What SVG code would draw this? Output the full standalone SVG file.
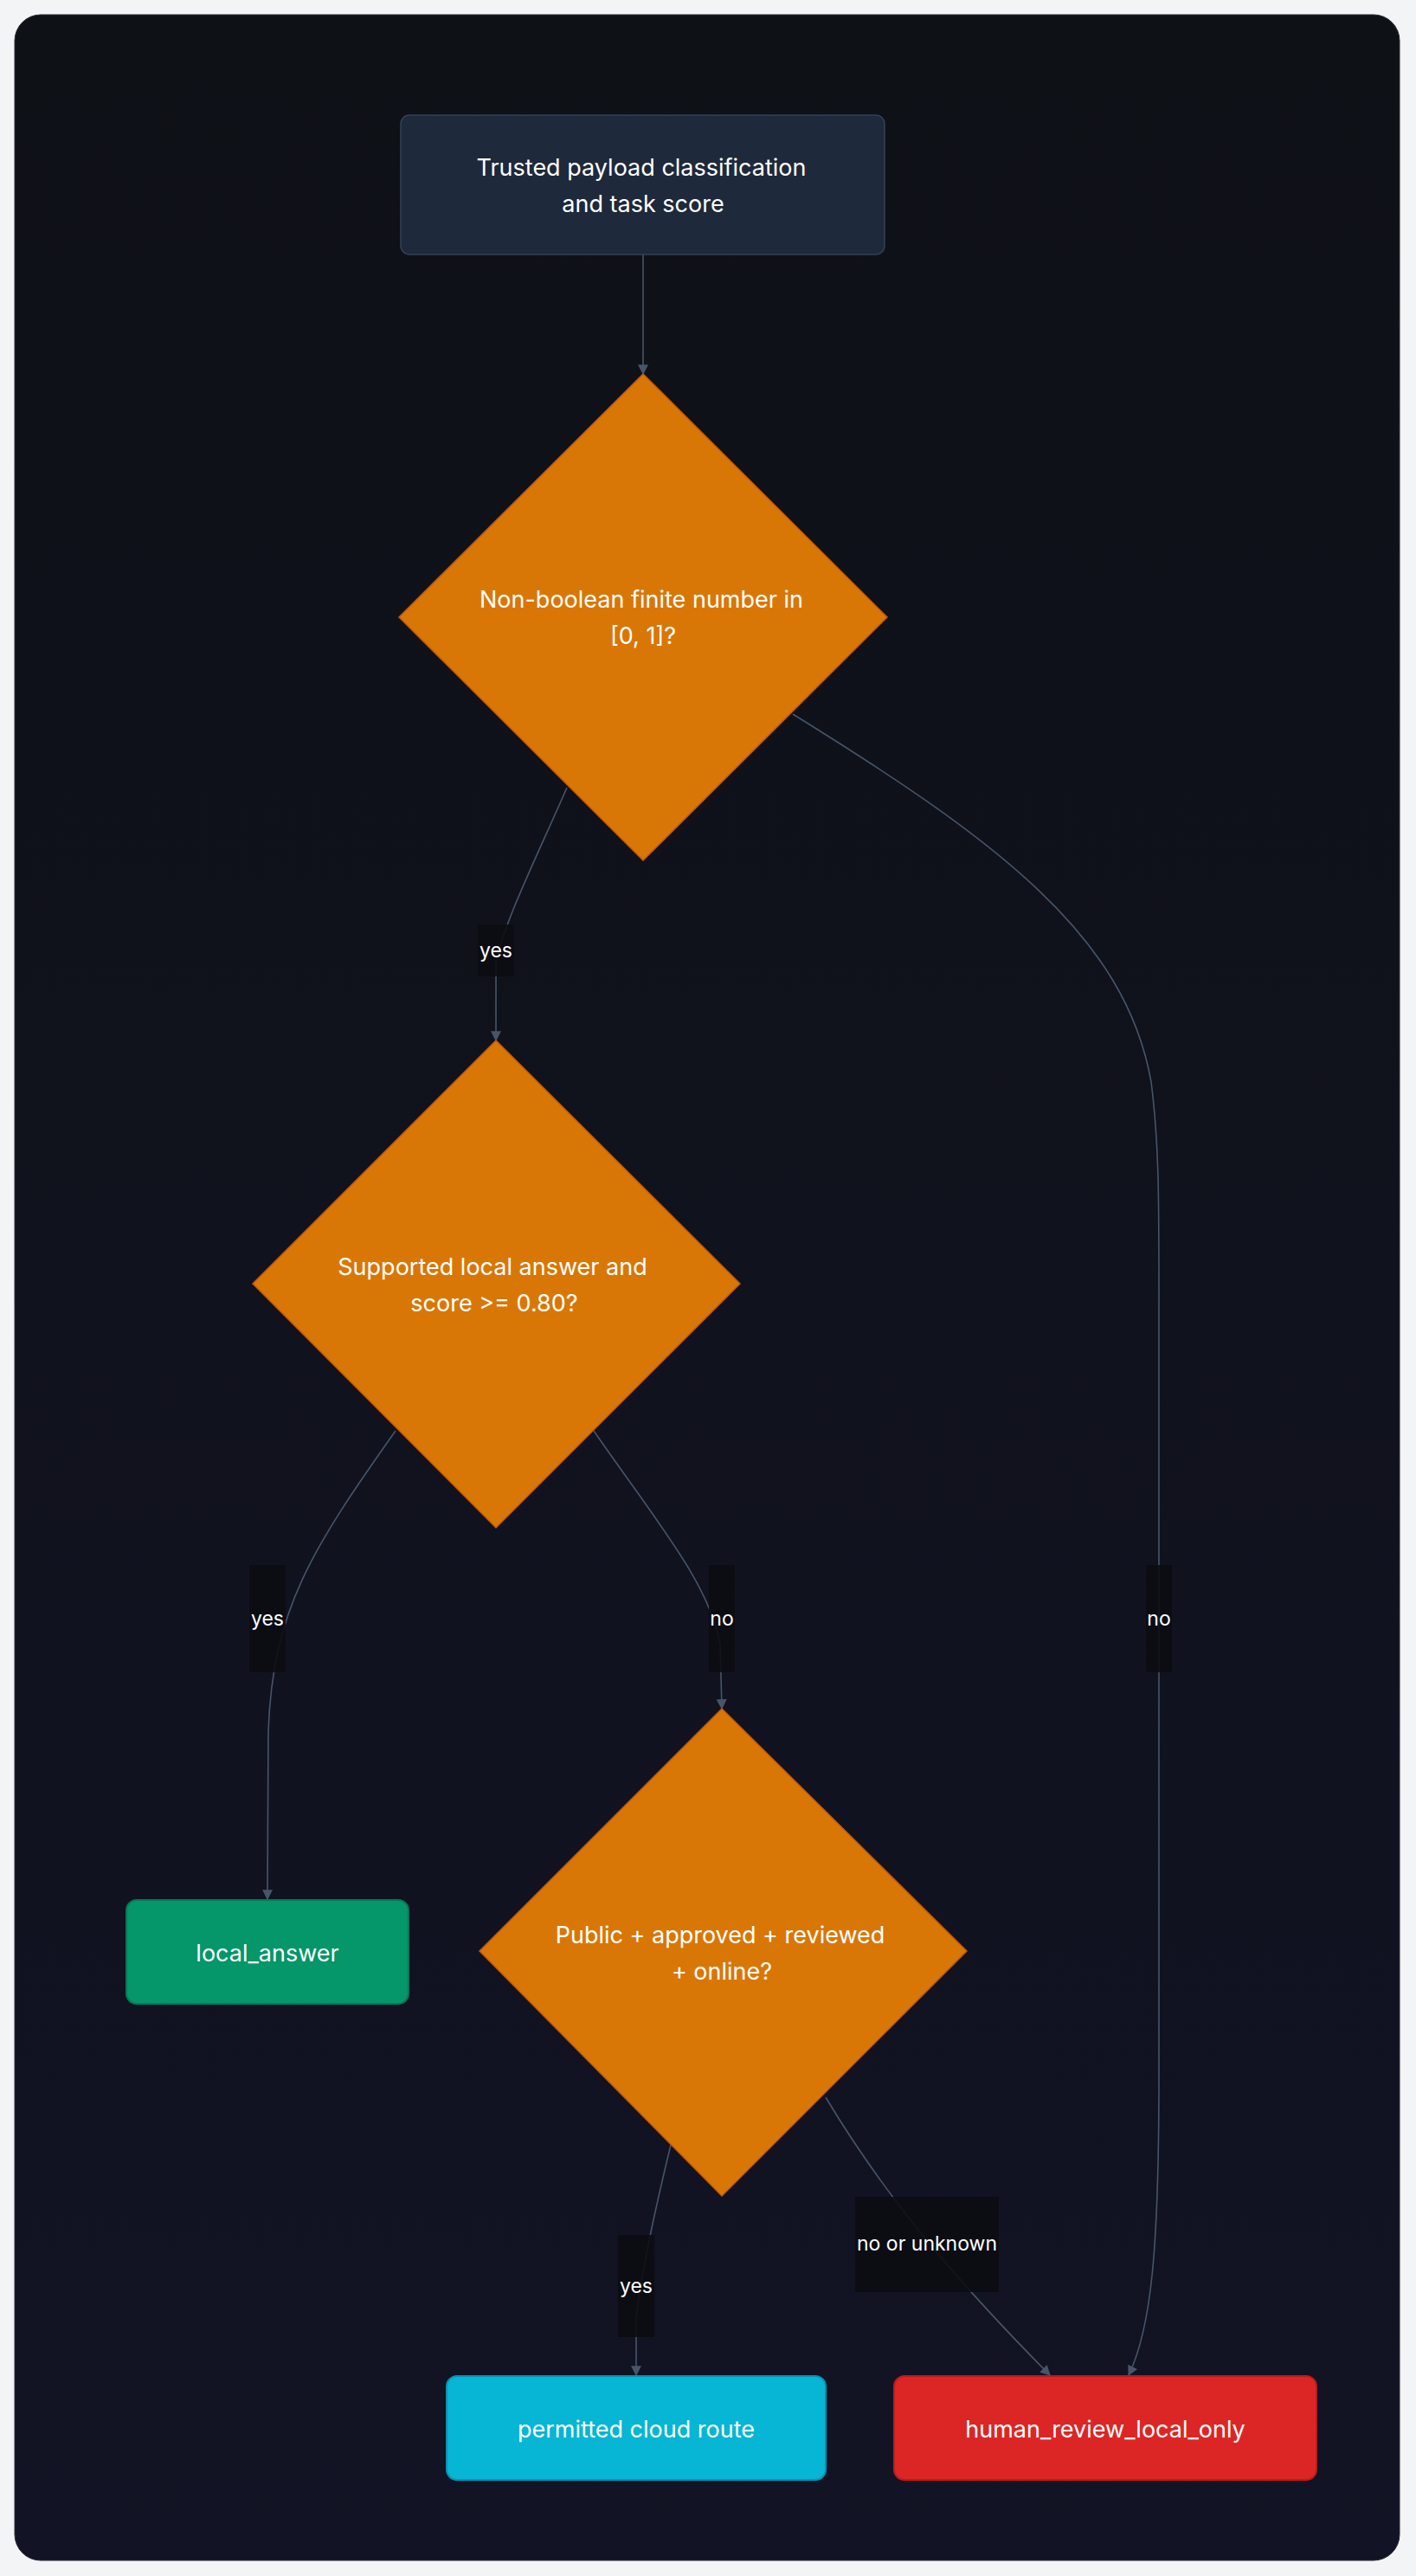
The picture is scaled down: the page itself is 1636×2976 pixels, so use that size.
<svg xmlns="http://www.w3.org/2000/svg" width="1636" height="2976" viewBox="0 0 1636 2976">
<defs>
<linearGradient id="bg" x1="0" y1="0" x2="0" y2="1"><stop offset="0" stop-color="#0e1116"/><stop offset="1" stop-color="#121324"/></linearGradient>
<marker id="ah" viewBox="0 0 10 10" refX="9" refY="5" markerWidth="12" markerHeight="12" markerUnits="userSpaceOnUse" orient="auto"><path d="M0,0L10,5L0,10z" fill="#475569"/></marker>
<style>
.t{font-family:Inter,"Liberation Sans",sans-serif;fill:#fff;text-anchor:middle;dominant-baseline:central}
.n{font-size:27px}.l{font-size:23px}
.e{fill:none;stroke:#475569;stroke-width:1.6;marker-end:url(#ah)}
.lb{fill:#0c0d12;opacity:0.9}
.d{fill:#d97706;stroke:#c2560c;stroke-width:1.5}
</style>
</defs>
<rect width="1636" height="2976" fill="#f3f4f6"/>
<rect x="17" y="17" width="1600" height="2941" rx="30" fill="url(#bg)" stroke="#2a2d36"/>
<g id="connectors">
<path class="e" d="M743,294 L743,432"/>
<path class="e" d="M655,910 C620,990 585,1060 573,1110 L573,1202"/>
<path class="e" d="M916,825 C1150,970 1300,1080 1330,1250 C1339,1320 1339,1380 1339,1500 L1339,2400 C1339,2600 1330,2690 1304,2744"/>
<path class="e" d="M457,1653 C360,1790 315,1860 310,2000 L309,2194"/>
<path class="e" d="M686,1653 C760,1760 820,1830 832,1900 L834,1974"/>
<path class="e" d="M775,2478 C755,2560 740,2630 735,2680 L735,2744"/>
<path class="e" d="M954,2423 C1030,2550 1120,2650 1213,2744"/>
<g id="labels">
<rect class="lb" x="552" y="1068" width="42" height="60"/><text class="t l" x="573" y="1098">yes</text>
<rect class="lb" x="1324" y="1808" width="30" height="124"/><text class="t l" x="1339" y="1870">no</text>
<rect class="lb" x="288" y="1808" width="42" height="124"/><text class="t l" x="309" y="1870">yes</text>
<rect class="lb" x="819" y="1808" width="30" height="124"/><text class="t l" x="834" y="1870">no</text>
<rect class="lb" x="714" y="2582" width="42" height="118"/><text class="t l" x="735" y="2641">yes</text>
<rect class="lb" x="988" y="2538" width="166" height="110"/><text class="t l" x="1071" y="2592">no or unknown</text>
</g>
</g>
<g id="start"><rect x="463" y="133" width="559" height="161" rx="10" fill="#1e293b" stroke="#334155" stroke-width="1.5"/><text class="t n" x="741" y="193">Trusted payload classification</text><text class="t n" x="743" y="235">and task score</text></g>
<g id="d1"><polygon class="d" points="743,432 1025,713 743,994 461,713"/><text class="t n" x="741" y="692">Non-boolean finite number in</text><text class="t n" x="743" y="734">[0, 1]?</text></g>
<g id="d2"><polygon class="d" points="573,1202 855,1483 573,1765 292,1483"/><text class="t n" x="569" y="1463">Supported local answer and</text><text class="t n" x="571" y="1505">score &gt;= 0.80?</text></g>
<g id="d3"><polygon class="d" points="834,1974 1117,2254 834,2537 554,2254"/><text class="t n" x="832" y="2235">Public + approved + reviewed</text><text class="t n" x="834" y="2277">+ online?</text></g>
<g id="local"><rect x="146" y="2195" width="326" height="120" rx="12" fill="#059669" stroke="#047857" stroke-width="2"/><text class="t n" x="309" y="2256">local_answer</text></g>
<g id="cloud"><rect x="516" y="2745" width="438" height="120" rx="12" fill="#06b6d4" stroke="#0891b2" stroke-width="2"/><text class="t n" x="735" y="2806">permitted cloud route</text></g>
<g id="human"><rect x="1033" y="2745" width="488" height="120" rx="12" fill="#dc2626" stroke="#b91c1c" stroke-width="2"/><text class="t n" x="1277" y="2806">human_review_local_only</text></g>
</svg>
